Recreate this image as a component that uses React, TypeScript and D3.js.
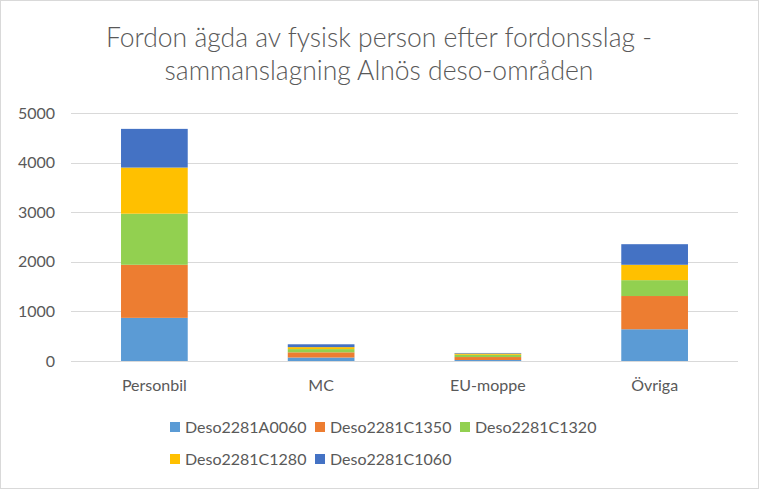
import { useEffect, useRef } from 'react';
import * as d3 from 'd3';

const categories = ['Personbil', 'MC', 'EU-moppe', 'Övriga'];
const seriesNames = ['Deso2281A0060', 'Deso2281C1350', 'Deso2281C1320', 'Deso2281C1280', 'Deso2281C1060'];
const seriesColors = ['#5B9BD5', '#ED7D31', '#92D050', '#FFC000', '#4472C4'];

// one array per deso-område, in category order
const desoA0060 = [870, 70, 20, 640];
const desoC1350 = [1070, 105, 60, 670];
const desoC1320 = [1030, 65, 45, 320];
const desoC1280 = [930, 40, 25, 310];
const desoC1060 = [780, 57, 12, 415];

const yTicks = [0, 1000, 2000, 3000, 4000, 5000];
const titleLines = ['Fordon ägda av fysisk person efter fordonsslag -', 'sammanslagning Alnös deso-områden'];

const FONT = 'Lato, "Open Sans", sans-serif';
const TEXT = '#595959';

export default function App() {
  const svgRef = useRef<SVGSVGElement>(null);

  useEffect(() => {
    document.body.style.margin = '0';
    const svg = d3.select(svgRef.current);
    if (!svg.node()) return;
    svg.selectAll('*').remove();

    const width = 759;
    const height = 489;
    const plot = { left: 71, right: 738, top: 113, bottom: 361 };

    const values = [desoA0060, desoC1350, desoC1320, desoC1280, desoC1060];
    const rows = categories.map((c, i) => {
      const r: Record<string, number | string> = { category: c };
      seriesNames.forEach((s, j) => (r[s] = values[j][i]));
      return r;
    });
    const stacked = d3.stack<Record<string, number | string>>().keys(seriesNames)(rows as any);

    const x = d3
      .scaleBand()
      .domain(categories)
      .range([plot.left, plot.right])
      .paddingInner(0.6)
      .paddingOuter(0.3);
    const y = d3.scaleLinear().domain([0, 5000]).range([plot.bottom, plot.top]);

    svg
      .append('rect')
      .attr('x', 0.5)
      .attr('y', 0.5)
      .attr('width', width - 1)
      .attr('height', height - 1)
      .attr('fill', '#fff')
      .attr('stroke', '#d9d9d9');

    const title = svg
      .append('text')
      .attr('font-family', FONT)
      .attr('font-size', 26.5)
      .attr('font-weight', 300)
      .attr('fill', TEXT)
      .attr('text-anchor', 'middle');
    titleLines.forEach((t, i) => {
      title.append('tspan').attr('x', 379).attr('y', 47 + i * 33).text(t);
    });

    // gridlines
    svg
      .append('g')
      .selectAll('line')
      .data(yTicks)
      .join('line')
      .attr('x1', plot.left)
      .attr('x2', plot.right)
      .attr('y1', (d) => Math.round(y(d)) + 0.5)
      .attr('y2', (d) => Math.round(y(d)) + 0.5)
      .attr('stroke', '#d9d9d9')
      .attr('stroke-width', 1);

    svg
      .append('g')
      .selectAll('text')
      .data(yTicks)
      .join('text')
      .attr('x', 55)
      .attr('y', (d) => y(d))
      .attr('dy', '0.35em')
      .attr('text-anchor', 'end')
      .attr('font-family', FONT)
      .attr('font-size', 16)
      .attr('fill', TEXT)
      .text((d) => `${d}`);

    svg
      .append('g')
      .selectAll('g')
      .data(stacked)
      .join('g')
      .attr('fill', (_, i) => seriesColors[i])
      .selectAll('rect')
      .data((d) => d)
      .join('rect')
      .attr('x', (d) => x(d.data.category as string)!)
      .attr('width', x.bandwidth())
      .attr('y', (d) => y(d[1]))
      .attr('height', (d) => y(d[0]) - y(d[1]));

    svg
      .append('g')
      .selectAll('text')
      .data(categories)
      .join('text')
      .attr('x', (d) => x(d)! + x.bandwidth() / 2)
      .attr('y', 391)
      .attr('text-anchor', 'middle')
      .attr('font-family', FONT)
      .attr('font-size', 16)
      .attr('fill', TEXT)
      .text((d) => d);

    // legend: three items on the first row, two on the second
    const legendX = [170, 315, 460];
    const legend = svg
      .append('g')
      .selectAll('g')
      .data(seriesNames)
      .join('g')
      .attr('transform', (_, i) => `translate(${legendX[i % 3]},${i < 3 ? 427 : 459})`);
    legend
      .append('rect')
      .attr('x', 0)
      .attr('y', -5)
      .attr('width', 10)
      .attr('height', 10)
      .attr('fill', (_, i) => seriesColors[i]);
    legend
      .append('text')
      .attr('x', 15)
      .attr('dy', '0.35em')
      .attr('font-family', FONT)
      .attr('font-size', 16)
      .attr('fill', TEXT)
      .text((d) => d);
  }, []);

  return <svg ref={svgRef} width={759} height={489} style={{ display: 'block' }} />;
}
